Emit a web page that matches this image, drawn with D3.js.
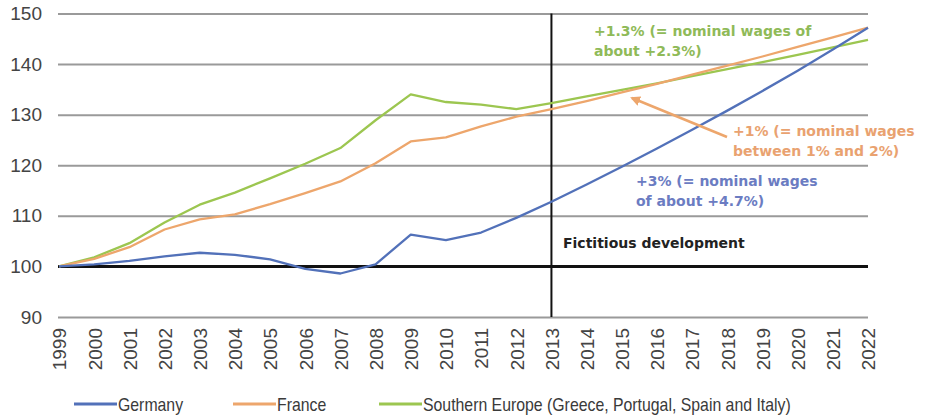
<!DOCTYPE html>
<html>
<head>
<meta charset="utf-8">
<script src="https://cdn.jsdelivr.net/npm/d3@7"></script>
<style>
  html, body { margin: 0; padding: 0; background: #fff; }
  svg { display: block; }
  .tick text { font-family: "Liberation Sans", Arial, sans-serif; fill: #444; }
</style>
</head>
<body>
<svg id="chart" width="927" height="416"></svg>
<script>
// Index of real unit labour costs, 1999 = 100 (projection from 2013)
const years = d3.range(1999, 2023);
const germany = [100, 100.4, 101.1, 102.0, 102.7, 102.3, 101.4, 99.5, 98.6, 100.4, 106.3, 105.2, 106.7, 109.6,
                 112.8, 116.2, 119.7, 123.3, 127.0, 130.8, 134.7, 138.7, 142.9, 147.2];
const france = [100, 101.5, 103.8, 107.3, 109.3, 110.3, 112.3, 114.5, 116.8, 120.4, 124.7, 125.5, 127.7, 129.6,
                131.1, 132.7, 134.4, 136.1, 137.9, 139.7, 141.5, 143.4, 145.3, 147.2];
const southEurope = [100, 101.8, 104.6, 108.7, 112.2, 114.6, 117.4, 120.3, 123.4, 128.9, 134.0, 132.5, 132.0, 131.1,
                     132.3, 133.6, 134.9, 136.2, 137.6, 139.0, 140.4, 141.8, 143.3, 144.8];
const yTicks = [90, 100, 110, 120, 130, 140, 150];
const seriesNames = ["Germany", "France", "Southern Europe (Greece, Portugal, Spain and Italy)"];
const seriesColors = ["#5271b9", "#eda66c", "#9cc650"];
const projectionStart = 2013;

const svg = d3.select("#chart");
const x = d3.scaleLinear().domain([1999, 2022]).range([59, 868]);
const y = d3.scaleLinear().domain([90, 150]).range([317, 13.5]);

// horizontal grid + value labels
const yAxis = d3.axisLeft(y).tickValues(yTicks).tickSizeInner(-(868 - 58)).tickSizeOuter(0).tickPadding(16);
const gy = svg.append("g").attr("transform", "translate(58,0)").call(yAxis);
gy.select(".domain").remove();
gy.selectAll(".tick line").attr("stroke", "#9a9a9a").attr("stroke-width", 2);
gy.selectAll(".tick text").attr("font-size", 19).attr("fill", "#444");

// year labels, rotated
const xAxis = d3.axisBottom(x).tickValues(years).tickFormat(d3.format("d")).tickSize(0);
const gx = svg.append("g").attr("transform", "translate(0,317)").call(xAxis);
gx.select(".domain").remove();
gx.selectAll(".tick text")
  .attr("font-size", 19).attr("fill", "#444")
  .attr("text-anchor", "end")
  .attr("transform", "rotate(-90)")
  .attr("x", -11).attr("y", 0).attr("dy", "0.36em");

// base line at 100 and start of projection
svg.append("line").attr("x1", 58).attr("x2", 868).attr("y1", y(100)).attr("y2", y(100))
  .attr("stroke", "#111").attr("stroke-width", 3);
svg.append("line").attr("x1", x(projectionStart)).attr("x2", x(projectionStart))
  .attr("y1", y(150)).attr("y2", y(90)).attr("stroke", "#111").attr("stroke-width", 2);

// series
const line = d3.line().x((d, i) => x(years[i])).y(d => y(d));
[southEurope, france, germany].forEach((s, k) => {
  const idx = 2 - k;
  svg.append("path").attr("d", line(s)).attr("fill", "none")
    .attr("stroke", seriesColors[idx]).attr("stroke-width", 2.3).attr("stroke-linejoin", "round");
});

// annotations
const noteFont = "'DejaVu Sans', Verdana, sans-serif";
function note(lines, px, py, color, size) {
  const t = svg.append("text").attr("font-family", noteFont).attr("font-weight", "bold")
    .attr("font-size", size).attr("fill", color);
  lines.forEach((s, i) => t.append("tspan").attr("x", px).attr("y", py + i * 20).text(s));
}
note(["+1.3% (= nominal wages of", "about +2.3%)"], 594, 36, "#8fba58", 14);
note(["+1% (= nominal wages", "between 1% and 2%)"], 733, 136, "#e9a270", 14);
note(["+3% (= nominal wages", "of about +4.7%)"], 636, 186, "#6b7cc2", 14);
note(["Fictitious development"], 563, 248, "#222", 14);

// arrow pointing at the France projection
svg.append("defs").append("marker").attr("id", "arrowHead")
  .attr("viewBox", "0 0 10 10").attr("refX", 8).attr("refY", 5)
  .attr("markerWidth", 4).attr("markerHeight", 4).attr("orient", "auto")
  .append("path").attr("d", "M0,0L10,5L0,10Z").attr("fill", "#eda66c");
svg.append("line").attr("x1", 727).attr("y1", 137).attr("x2", 632).attr("y2", 98)
  .attr("stroke", "#eda66c").attr("stroke-width", 2.5).attr("marker-end", "url(#arrowHead)");

// legend (slightly condensed lettering)
const legendX = [74, 233, 379];
const lg = svg.append("g");
seriesNames.forEach((n, i) => {
  lg.append("line").attr("x1", legendX[i]).attr("x2", legendX[i] + 43).attr("y1", 404).attr("y2", 404)
    .attr("stroke", seriesColors[i]).attr("stroke-width", 3);
  lg.append("text").attr("transform", `translate(${legendX[i] + 44},411) scale(0.88,1)`)
    .attr("font-family", "'Liberation Sans', Arial, sans-serif")
    .attr("font-size", 18).attr("fill", "#3a3a3a").text(n);
});
</script>
</body>
</html>
